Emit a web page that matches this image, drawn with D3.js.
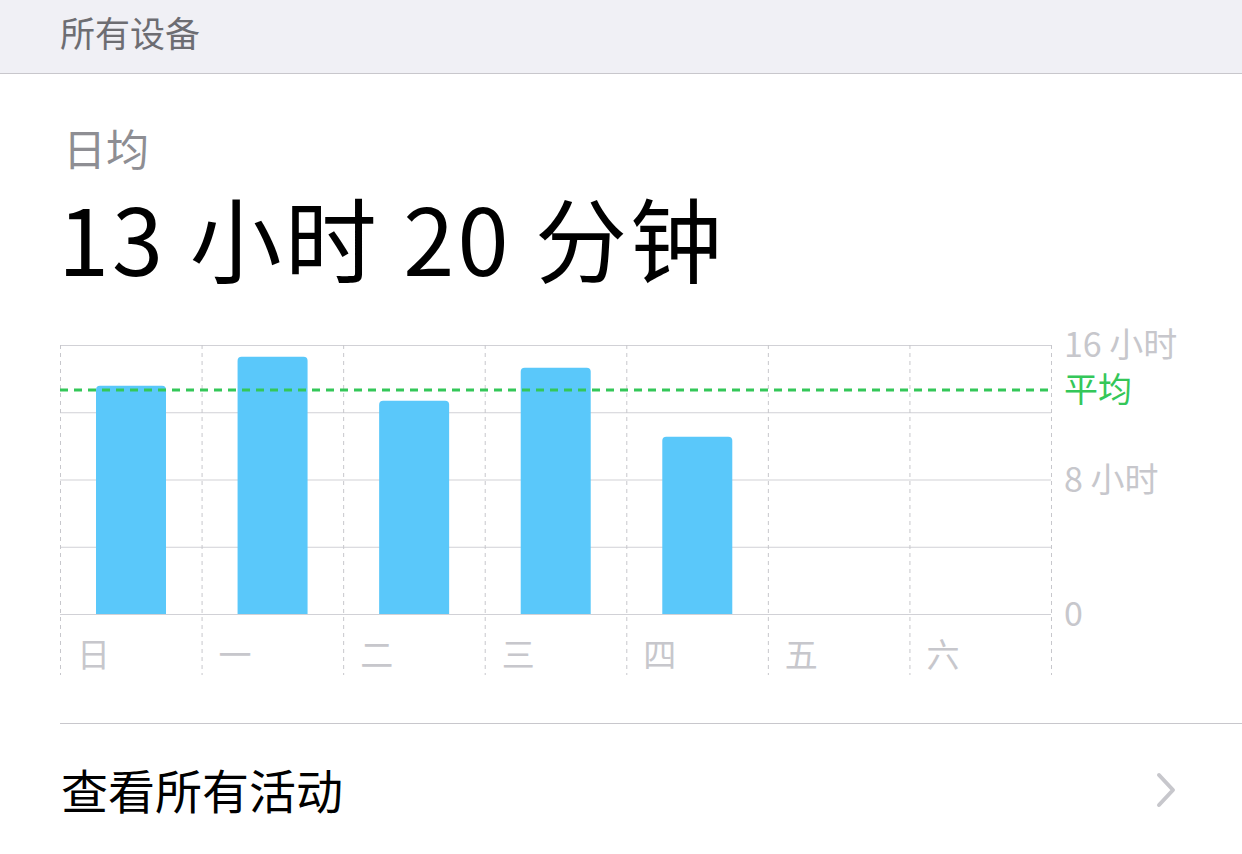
<!DOCTYPE html>
<html><head><meta charset="utf-8">
<script src="https://cdn.jsdelivr.net/npm/d3@7"></script>
<style>
body{margin:0;background:#fff;font-family:"Noto Sans CJK SC","Noto Sans",sans-serif;}
</style></head><body>
<svg id="chart" width="1242" height="854"></svg>
<script>
var days = ["日", "一", "二", "三", "四", "五", "六"];
var hours = [13.57, 15.3, 12.68, 14.64, 10.54, null, null];
var avgHours = 13.33;
var yTicks = [0, 4, 8, 12, 16];
var yLabels = {0: "0", 8: "8 小时", 16: "16 小时"};

var svg = d3.select("#chart");
var font = '"Noto Sans CJK SC", sans-serif';

// header band
svg.append("rect").attr("width", 1242).attr("height", 73).attr("fill", "#f0f0f5");
svg.append("line").attr("x1", 0).attr("x2", 1242).attr("y1", 73.5).attr("y2", 73.5).attr("stroke", "#c8c7cc");
svg.append("text").attr("x", 60).attr("y", 47).attr("font-size", 35).attr("fill", "#6d6d72").attr("font-family", font).text("所有设备");

svg.append("text").attr("x", 63).attr("y", 166).attr("font-size", 43).attr("fill", "#8e8e93").attr("font-family", font).text("日均");
svg.append("text").attr("x", 58).attr("y", 276).attr("font-size", 92).attr("letter-spacing", 3).attr("fill", "#000").attr("font-family", font).text("13 小时 20 分钟");

var x = d3.scaleBand().domain(days).range([60, 1051]).paddingInner(0).paddingOuter(0);
var y = d3.scaleLinear().domain([0, 16]).range([614, 345]);

// horizontal grid
svg.selectAll(".hg").data(yTicks).enter().append("line")
  .attr("x1", 60).attr("x2", 1051)
  .attr("y1", d => y(d) + 0.5).attr("y2", d => y(d) + 0.5)
  .attr("stroke", "#d1d1d6").attr("stroke-width", 1.2);

// vertical dashed grid
var vx = days.map(d => x(d)).concat([1051]);
svg.selectAll(".vg").data(vx).enter().append("line")
  .attr("x1", d => d + 0.5).attr("x2", d => d + 0.5)
  .attr("y1", 345).attr("y2", 675)
  .attr("stroke", "#c7c7cc").attr("stroke-dasharray", "4,4");

// bars
var bw = 70;
svg.selectAll(".bar").data(days.map((d, i) => ({d: d, v: hours[i]})).filter(o => o.v != null))
  .enter().append("path")
  .attr("fill", "#5ac8fa")
  .attr("d", function(o) {
    var x0 = x(o.d) + 36, y0 = y(o.v), y1 = y(0), r = 4;
    return "M" + x0 + "," + y1 + "V" + (y0 + r) + "Q" + x0 + "," + y0 + " " + (x0 + r) + "," + y0 +
      "H" + (x0 + bw - r) + "Q" + (x0 + bw) + "," + y0 + " " + (x0 + bw) + "," + (y0 + r) + "V" + y1 + "Z";
  });

// average line
svg.append("line").attr("x1", 60).attr("x2", 1051)
  .attr("y1", y(avgHours)).attr("y2", y(avgHours))
  .attr("stroke", "#34c759").attr("stroke-width", 3).attr("stroke-dasharray", "8,6");
svg.append("text").attr("x", 1064).attr("y", y(avgHours) + 12).attr("font-size", 34)
  .attr("fill", "#34c759").attr("font-family", font).text("平均");

// y labels
svg.selectAll(".yl").data(yTicks.filter(t => yLabels[t] !== undefined)).enter().append("text")
  .attr("x", 1064).attr("y", d => y(d) + 12).attr("font-size", 34)
  .attr("fill", "#c7c7cc").attr("font-family", font).text(d => yLabels[d]);

// day labels
svg.selectAll(".xl").data(days).enter().append("text")
  .attr("x", d => x(d) + 17).attr("y", 667).attr("font-size", 33)
  .attr("fill", "#c7c7cc").attr("font-family", font).text(d => d);

// footer
svg.append("line").attr("x1", 60).attr("x2", 1242).attr("y1", 723.5).attr("y2", 723.5).attr("stroke", "#c8c7cc");
svg.append("text").attr("x", 61).attr("y", 809).attr("font-size", 47).attr("fill", "#000").attr("font-family", font).text("查看所有活动");
svg.append("path").attr("d", "M1159,775 L1173,790 L1159,805").attr("fill", "none")
  .attr("stroke", "#c7c7cc").attr("stroke-width", 4).attr("stroke-linecap", "round").attr("stroke-linejoin", "round");
</script>
</body></html>
